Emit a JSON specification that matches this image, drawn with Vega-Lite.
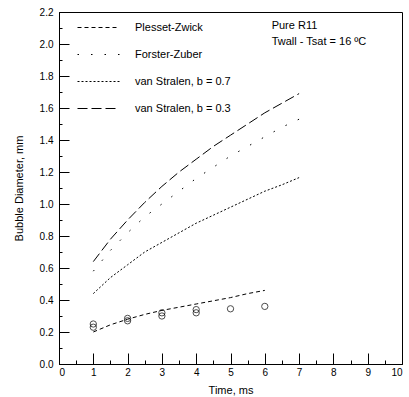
{
  "$schema": "https://vega.github.io/schema/vega-lite/v6.json",
  "autosize": {"type": "none"},
  "width": 343,
  "height": 352,
  "padding": {"left": 59, "top": 12, "right": 7, "bottom": 33},
  "background": "white",
  "config": {
    "view": {"stroke": "black", "strokeWidth": 1},
    "font": "Liberation Sans",
    "axis": {
      "domainColor": "black", "tickColor": "black", "labelColor": "black", "titleColor": "black",
      "grid": false, "labelFont": "Liberation Sans", "titleFont": "Liberation Sans",
      "labelFontSize": 10, "titleFontSize": 11, "titleFontWeight": "normal"
    }
  },
  "datasets": {
    "curves": [
      {"model": "van Stralen, b = 0.3", "t": 1, "d": 0.64}, {"model": "van Stralen, b = 0.3", "t": 1.5, "d": 0.78},
      {"model": "van Stralen, b = 0.3", "t": 2, "d": 0.9}, {"model": "van Stralen, b = 0.3", "t": 2.5, "d": 1.01},
      {"model": "van Stralen, b = 0.3", "t": 3, "d": 1.11}, {"model": "van Stralen, b = 0.3", "t": 3.5, "d": 1.2},
      {"model": "van Stralen, b = 0.3", "t": 4, "d": 1.28}, {"model": "van Stralen, b = 0.3", "t": 4.5, "d": 1.36},
      {"model": "van Stralen, b = 0.3", "t": 5, "d": 1.43}, {"model": "van Stralen, b = 0.3", "t": 5.5, "d": 1.5},
      {"model": "van Stralen, b = 0.3", "t": 6, "d": 1.57}, {"model": "van Stralen, b = 0.3", "t": 6.5, "d": 1.63},
      {"model": "van Stralen, b = 0.3", "t": 7, "d": 1.69},
      {"model": "Forster-Zuber", "t": 1, "d": 0.58}, {"model": "Forster-Zuber", "t": 1.5, "d": 0.71},
      {"model": "Forster-Zuber", "t": 2, "d": 0.82}, {"model": "Forster-Zuber", "t": 2.5, "d": 0.92},
      {"model": "Forster-Zuber", "t": 3, "d": 1.0}, {"model": "Forster-Zuber", "t": 3.5, "d": 1.08},
      {"model": "Forster-Zuber", "t": 4, "d": 1.16}, {"model": "Forster-Zuber", "t": 4.5, "d": 1.23},
      {"model": "Forster-Zuber", "t": 5, "d": 1.3}, {"model": "Forster-Zuber", "t": 5.5, "d": 1.36},
      {"model": "Forster-Zuber", "t": 6, "d": 1.42}, {"model": "Forster-Zuber", "t": 6.5, "d": 1.48},
      {"model": "Forster-Zuber", "t": 7, "d": 1.53},
      {"model": "van Stralen, b = 0.7", "t": 1, "d": 0.44}, {"model": "van Stralen, b = 0.7", "t": 1.5, "d": 0.54},
      {"model": "van Stralen, b = 0.7", "t": 2, "d": 0.62}, {"model": "van Stralen, b = 0.7", "t": 2.5, "d": 0.7},
      {"model": "van Stralen, b = 0.7", "t": 3, "d": 0.76}, {"model": "van Stralen, b = 0.7", "t": 3.5, "d": 0.82},
      {"model": "van Stralen, b = 0.7", "t": 4, "d": 0.88}, {"model": "van Stralen, b = 0.7", "t": 4.5, "d": 0.93},
      {"model": "van Stralen, b = 0.7", "t": 5, "d": 0.98}, {"model": "van Stralen, b = 0.7", "t": 5.5, "d": 1.03},
      {"model": "van Stralen, b = 0.7", "t": 6, "d": 1.08}, {"model": "van Stralen, b = 0.7", "t": 6.5, "d": 1.12},
      {"model": "van Stralen, b = 0.7", "t": 7, "d": 1.165},
      {"model": "Plesset-Zwick", "t": 1, "d": 0.2}, {"model": "Plesset-Zwick", "t": 1.5, "d": 0.245},
      {"model": "Plesset-Zwick", "t": 2, "d": 0.28}, {"model": "Plesset-Zwick", "t": 2.5, "d": 0.31},
      {"model": "Plesset-Zwick", "t": 3, "d": 0.335}, {"model": "Plesset-Zwick", "t": 3.5, "d": 0.355},
      {"model": "Plesset-Zwick", "t": 4, "d": 0.375}, {"model": "Plesset-Zwick", "t": 4.5, "d": 0.395},
      {"model": "Plesset-Zwick", "t": 5, "d": 0.415}, {"model": "Plesset-Zwick", "t": 5.5, "d": 0.44},
      {"model": "Plesset-Zwick", "t": 6, "d": 0.46}
    ],
    "measured": [
      {"t": 1, "d": 0.25}, {"t": 1, "d": 0.23}, {"t": 2, "d": 0.285}, {"t": 2, "d": 0.27},
      {"t": 3, "d": 0.32}, {"t": 3, "d": 0.3}, {"t": 4, "d": 0.34}, {"t": 4, "d": 0.32},
      {"t": 5, "d": 0.345}, {"t": 6, "d": 0.36}
    ],
    "notes": [
      {"t": 6.2, "d": 2.11, "text": "Pure R11"},
      {"t": 6.2, "d": 2.01, "text": "Twall - Tsat = 16 ºC"}
    ]
  },
  "encoding": {
    "x": {
      "field": "t", "type": "quantitative",
      "scale": {"domain": [0, 10], "nice": false, "zero": false},
      "axis": {
        "title": "Time, ms",
        "values": [0, 0.5, 1, 1.5, 2, 2.5, 3, 3.5, 4, 4.5, 5, 5.5, 6, 6.5, 7, 7.5, 8, 8.5, 9, 9.5, 10],
        "labelExpr": "datum.value % 1 === 0 ? format(datum.value, 'd') : ''",
        "tickSize": {"condition": {"test": "datum.value % 1 === 0", "value": -11}, "value": -4},
        "zindex": 1, "labelOverlap": false,
        "labelPadding": 14,
        "titlePadding": 0
      }
    },
    "y": {
      "field": "d", "type": "quantitative",
      "scale": {"domain": [0, 2.2], "nice": false, "zero": false},
      "axis": {
        "title": "Bubble Diameter, mm",
        "values": [0, 0.1, 0.2, 0.3, 0.4, 0.5, 0.6, 0.7, 0.8, 0.9, 1.0, 1.1, 1.2, 1.3, 1.4, 1.5, 1.6, 1.7, 1.8, 1.9, 2.0, 2.1, 2.2],
        "labelExpr": "abs(datum.value*5 - round(datum.value*5)) < 0.01 ? format(datum.value, '.1f') : ''",
        "tickSize": {"condition": {"test": "abs(datum.value*5 - round(datum.value*5)) < 0.01", "value": -10}, "value": -3},
        "zindex": 1, "labelOverlap": false,
        "labelPadding": 16,
        "titlePadding": 15
      }
    }
  },
  "layer": [
    {
      "data": {"name": "curves"},
      "mark": {"type": "line", "color": "black", "strokeWidth": 1},
      "encoding": {
        "strokeDash": {
          "field": "model", "type": "nominal",
          "scale": {
            "domain": ["Plesset-Zwick", "Forster-Zuber", "van Stralen, b = 0.7", "van Stralen, b = 0.3"],
            "range": [[4, 3], [1.5, 12], [2, 2], [10, 4]]
          },
          "legend": {
            "title": null, "orient": "none", "legendX": 18, "legendY": -6,
            "symbolType": "stroke", "symbolSize": 1764, "symbolStrokeColor": "black", "symbolStrokeWidth": 1,
            "labelFontSize": 11, "labelOffset": 15, "rowPadding": 0, "labelColor": "black"
          }
        },
        "detail": {"field": "model"}
      }
    },
    {
      "data": {"name": "measured"},
      "mark": {"type": "point", "shape": "circle", "color": "black", "filled": false, "size": 40, "strokeWidth": 1}
    },
    {
      "data": {"name": "notes"},
      "mark": {"type": "text", "align": "left", "baseline": "middle", "fontSize": 11, "color": "black"},
      "encoding": {
        "text": {"field": "text"}
      }
    }
  ]
}
